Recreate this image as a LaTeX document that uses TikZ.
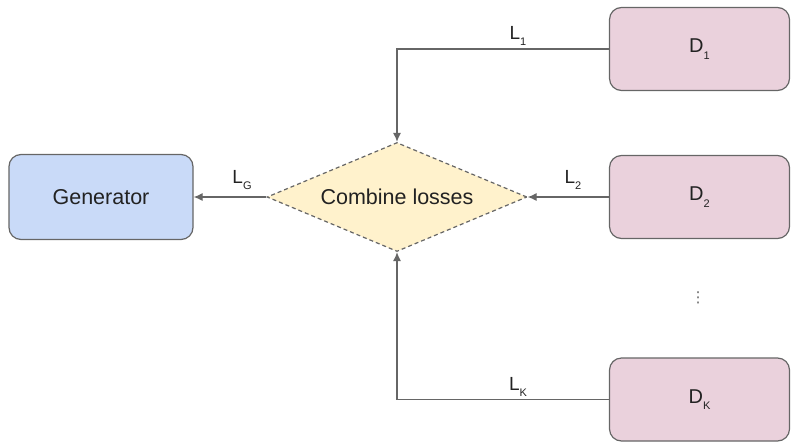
\documentclass[tikz,border=0pt]{standalone}
\usepackage{fontspec}
\setmainfont{Liberation Sans}
\newfontfamily\symfont{DejaVu Sans}
\usetikzlibrary{shapes.geometric,arrows.meta}
\definecolor{gencol}{HTML}{C9DAF8}
\definecolor{dcol}{HTML}{EAD1DC}
\definecolor{combcol}{HTML}{FFF2CC}
\definecolor{edgecol}{HTML}{666666}
\definecolor{txtcol}{HTML}{222222}
\newcommand{\lowsub}[1]{\raisebox{-0.6ex}{\fontsize{11}{11}\selectfont #1}}
\begin{document}
\begin{tikzpicture}[x=1pt,y=-1pt,
  box/.style={draw=edgecol, line width=1.2pt, rounded corners=12pt, text=txtcol, inner sep=0pt},
  gen/.style={box, fill=gencol, minimum width=184pt, minimum height=85pt, font=\fontsize{21.5}{25}\selectfont},
  disc/.style={box, fill=dcol, minimum width=180pt, minimum height=83pt, font=\fontsize{20}{24}\selectfont},
  comb/.style={diamond, draw=edgecol, dash pattern=on 4pt off 3pt, line width=1.2pt, fill=combcol,
    minimum width=260pt, minimum height=109pt, inner sep=0pt, aspect=2.4, text=txtcol,
    font=\fontsize{21.5}{25}\selectfont},
  conn/.style={draw=edgecol, line width=1.2pt, -{Latex[length=9pt,width=8pt]}},
  lbl/.style={text=txtcol, font=\fontsize{19}{23}\selectfont, inner sep=0pt}
]
\useasboundingbox (0,0) rectangle (791,442);
\node[gen] (gen) at (101,197) {Generator};
\node[comb] (comb) at (397,197) {Combine losses};
\node[disc] (d1) at (699.5,49) {D\lowsub{1}};
\node[disc] (d2) at (699.5,197) {D\lowsub{2}};
\node[disc] (dk) at (699.5,399.5) {D\lowsub{K}};
\node[text=edgecol, font=\symfont\fontsize{15}{15}\selectfont, inner sep=0pt] (dots) at (698,298) {⋮};

\draw[conn] (d1.west) -| (comb.north);
\draw[conn] (d2.west) -- (comb.east);
\draw[conn] (dk.west) -| (comb.south);
\draw[conn] (comb.west) -- (gen.east);

\node[lbl] (l1) at (518,36) {L\lowsub{1}};
\node[lbl] (l2) at (573,180) {L\lowsub{2}};
\node[lbl] (lk) at (518,387) {L\lowsub{K}};
\node[lbl] (lg) at (242,180) {L\lowsub{G}};
\end{tikzpicture}
\end{document}
